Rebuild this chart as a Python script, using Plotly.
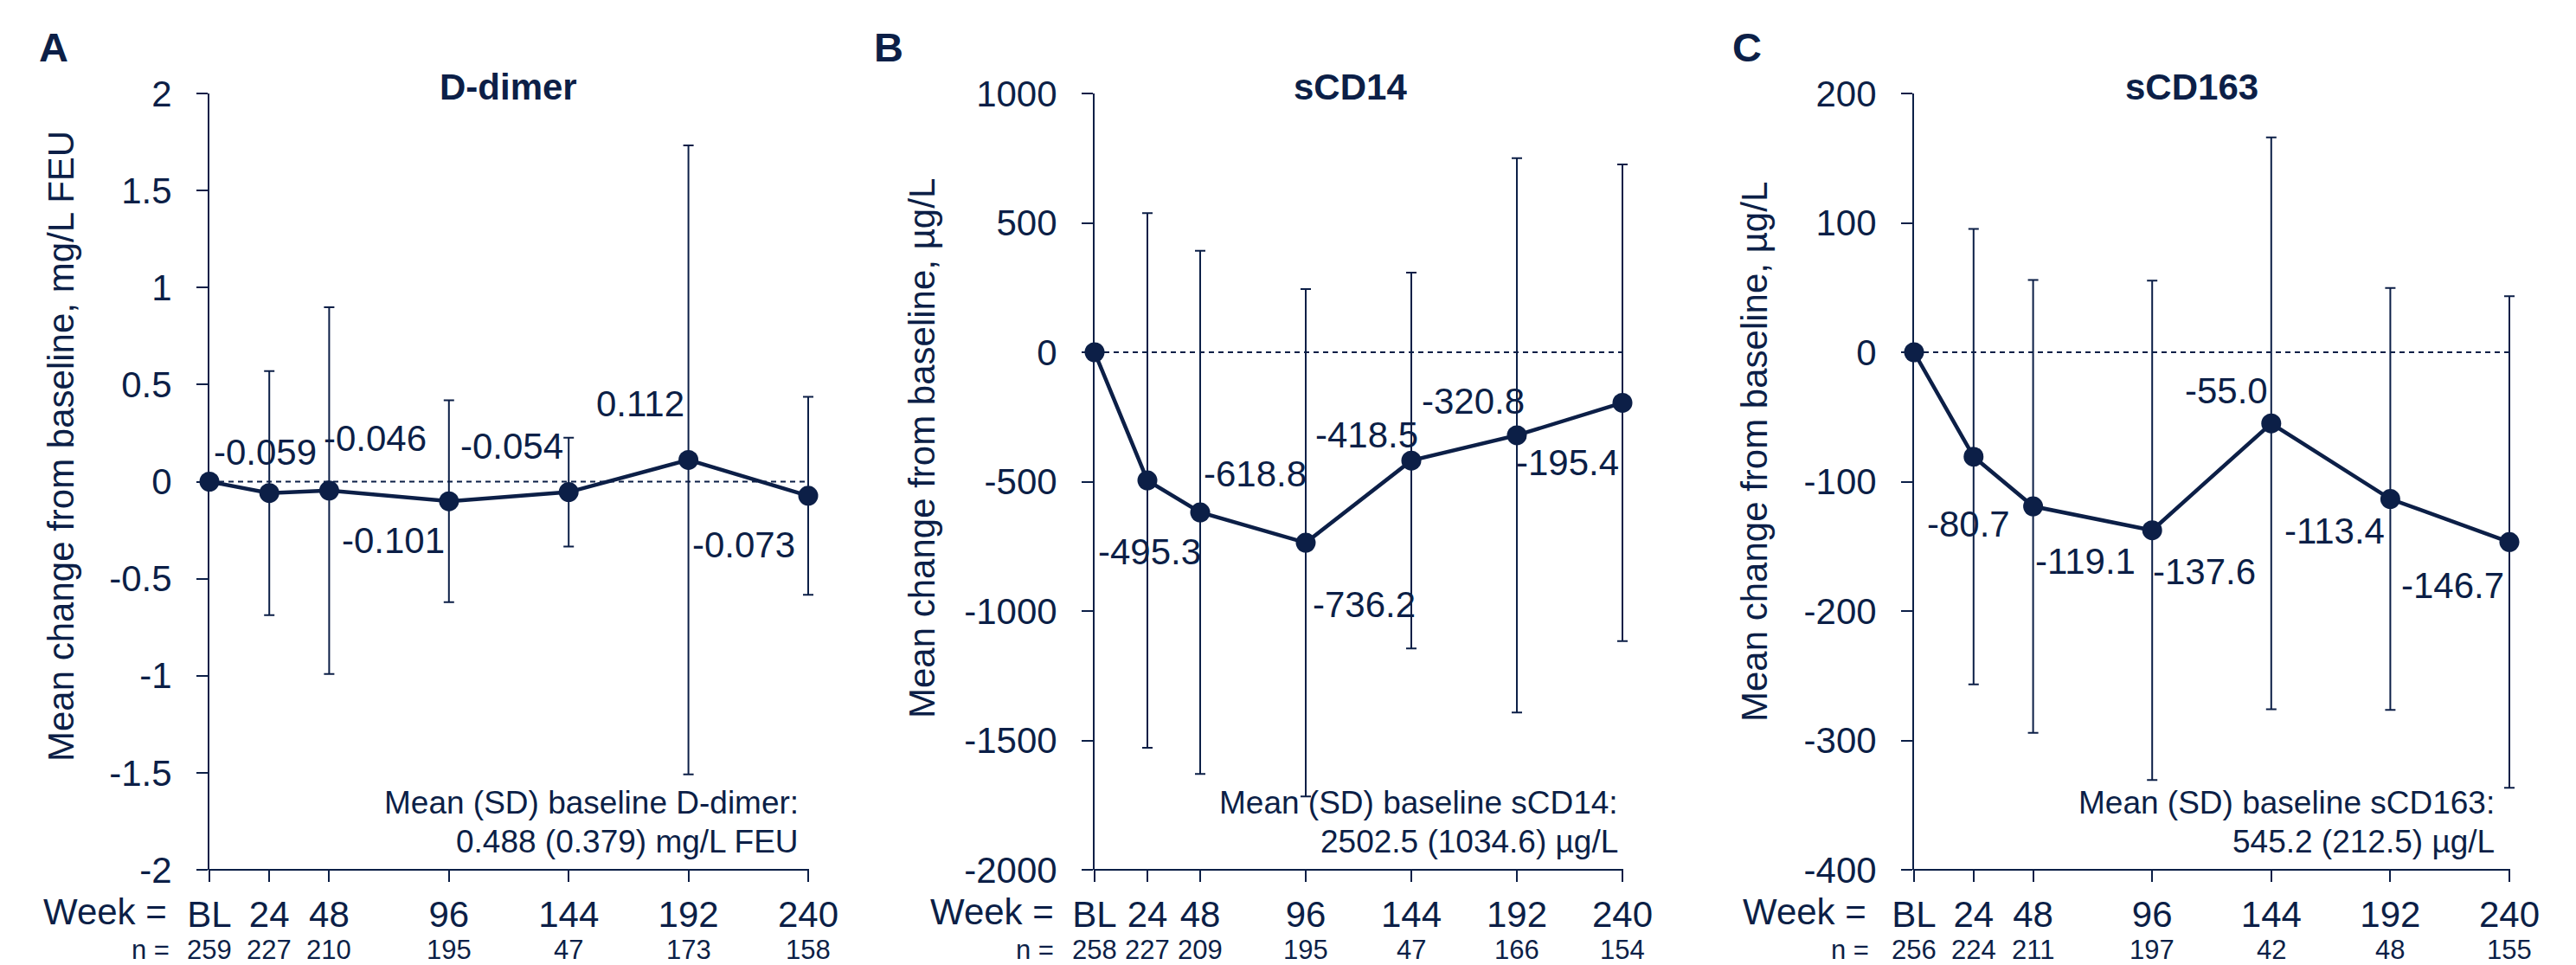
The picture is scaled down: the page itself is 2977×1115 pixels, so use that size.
import plotly.graph_objects as go

# ---------------- data ----------------
weeks = [0, 24, 48, 96, 144, 192, 240]
week_labels = ["BL", "24", "48", "96", "144", "192", "240"]

ddimer_mean = [0, -0.059, -0.046, -0.101, -0.054, 0.112, -0.073]
ddimer_sd = [0, 0.629, 0.945, 0.52, 0.28, 1.62, 0.51]
ddimer_n = [259, 227, 210, 195, 47, 173, 158]

scd14_mean = [0, -495.3, -618.8, -736.2, -418.5, -320.8, -195.4]
scd14_sd = [0, 1033, 1011, 980, 726, 1071, 921]
scd14_n = [258, 227, 209, 195, 47, 166, 154]

scd163_mean = [0, -80.7, -119.1, -137.6, -55.0, -113.4, -146.7]
scd163_sd = [0, 176, 175, 193, 221, 163, 190]
scd163_n = [256, 224, 211, 197, 42, 48, 155]

ddimer_yticks = [-2, -1.5, -1, -0.5, 0, 0.5, 1, 1.5, 2]
scd14_yticks = [-2000, -1500, -1000, -500, 0, 500, 1000]
scd163_yticks = [-400, -300, -200, -100, 0, 100, 200]

# ---------------- style ----------------
W, H = 2977, 1115
C = "#0c1f47"
FONT = "Arial, 'Liberation Sans', sans-serif"
Y_TOP, Y_BOT = 108, 1005
XPAD = 4  # extra range (weeks) right of the last tick so end error bars are not clipped

panels = [
    dict(letter="A", title="D-dimer", mean=ddimer_mean, sd=ddimer_sd, n=ddimer_n,
         yticks=ddimer_yticks, fmt="{:.3f}",
         ytitle="Mean change from baseline, mg/L FEU",
         note=["Mean (SD) baseline D-dimer:", "0.488 (0.379) mg/L FEU"],
         xpx=(242, 934), letter_x=43, title_x=587, ytitle_x=70, ytitle_y=516,
         week_right=195, n_right=198, note_right=925,
         offs=[(-5, -47), (53, -60), (-64, 45), (-66, -53), (-56, -65), (-75, 57)]),
    dict(letter="B", title="sCD14", mean=scd14_mean, sd=scd14_sd, n=scd14_n,
         yticks=scd14_yticks, fmt="{:.1f}",
         ytitle="Mean change from baseline, µg/L",
         note=["Mean (SD) baseline sCD14:", "2502.5 (1034.6) µg/L"],
         xpx=(1265, 1875), letter_x=1008, title_x=1560, ytitle_x=1065, ytitle_y=518,
         week_right=1220, n_right=1220, note_right=1872,
         offs=[(2, 82), (63, -45), (67, 71), (-52, -30), (-51, -39), (-64, 69)]),
    dict(letter="C", title="sCD163", mean=scd163_mean, sd=scd163_sd, n=scd163_n,
         yticks=scd163_yticks, fmt="{:.1f}",
         ytitle="Mean change from baseline, µg/L",
         note=["Mean (SD) baseline sCD163:", "545.2 (212.5) µg/L"],
         xpx=(2212, 2900), letter_x=2000, title_x=2533, ytitle_x=2027, ytitle_y=522,
         week_right=2159, n_right=2162, note_right=2885,
         offs=[(-6, 78), (60, 63), (60, 48), (-52, -38), (-64, 37), (-66, 50)]),
]

fig = go.Figure()
annotations = []
shapes = []
layout_axes = {}

def py(px):
    return 1 - px / H

for i, p in enumerate(panels):
    sfx = "" if i == 0 else str(i + 1)
    xa, ya = "x" + sfx, "y" + sfx
    fig.add_trace(go.Scatter(
        x=weeks, y=p["mean"], mode="lines+markers",
        line=dict(color=C, width=4.5),
        marker=dict(size=23, color=C),
        error_y=dict(type="data", array=p["sd"], visible=True, color=C,
                     thickness=2, width=6),
        xaxis=xa, yaxis=ya, showlegend=False, cliponaxis=False,
    ))
    yt = p["yticks"]
    x0px, x1px = p["xpx"]
    span = weeks[-1] - weeks[0]
    x1ext = x0px + (x1px - x0px) * (span + XPAD) / span
    layout_axes["xaxis" + sfx] = dict(
        domain=[x0px / W, x1ext / W], range=[weeks[0], weeks[-1] + XPAD],
        tickmode="array", tickvals=weeks, ticktext=week_labels,
        ticks="outside", ticklen=13, tickwidth=2, tickcolor=C,
        showline=False, showgrid=False, zeroline=False,
        tickfont=dict(size=42, color=C, family=FONT), anchor=ya,
        ticklabelstandoff=2, automargin=False,
    )
    layout_axes["yaxis" + sfx] = dict(
        domain=[py(Y_BOT), py(Y_TOP)], range=[yt[0], yt[-1]],
        tickmode="array", tickvals=yt, ticktext=["{:g}".format(v) for v in yt],
        ticks="outside", ticklen=13, tickwidth=2, tickcolor=C,
        showline=True, linecolor=C, linewidth=2, showgrid=False, zeroline=False,
        tickfont=dict(size=42, color=C, family=FONT), anchor=xa,
        ticklabelstandoff=20, automargin=False,
    )
    # x axis line ending at the last tick
    shapes.append(dict(type="line", xref="paper", yref="paper",
                       x0=(x0px - 1) / W, x1=(x1px + 1) / W, y0=py(Y_BOT), y1=py(Y_BOT),
                       line=dict(color=C, width=2)))
    shapes.append(dict(type="line", xref=xa, yref=ya, x0=weeks[0], x1=weeks[-1],
                       y0=0, y1=0, line=dict(color=C, width=2, dash="6px,5px"),
                       layer="below"))
    # data labels
    for j in range(1, len(weeks)):
        dx, dy = p["offs"][j - 1]
        annotations.append(dict(
            x=weeks[j], y=p["mean"][j], xref=xa, yref=ya,
            text=p["fmt"].format(p["mean"][j]), showarrow=False,
            xshift=dx, yshift=-dy, xanchor="center", yanchor="middle",
            font=dict(size=42, color=C, family=FONT)))
    # panel title
    annotations.append(dict(x=p["title_x"] / W, y=py(100), xref="paper", yref="paper",
                            text="<b>%s</b>" % p["title"], showarrow=False,
                            xanchor="center", yanchor="middle",
                            font=dict(size=42, color=C, family=FONT)))
    # panel letter
    annotations.append(dict(x=p["letter_x"] / W, y=py(54), xref="paper", yref="paper",
                            text="<b>%s</b>" % p["letter"], showarrow=False,
                            xanchor="left", yanchor="middle",
                            font=dict(size=47, color=C, family=FONT)))
    # y title
    annotations.append(dict(x=p["ytitle_x"] / W, y=py(p["ytitle_y"]), xref="paper",
                            yref="paper", text=p["ytitle"], showarrow=False,
                            textangle=-90, xanchor="center", yanchor="middle",
                            font=dict(size=42, color=C, family=FONT)))
    # Week = / n =
    annotations.append(dict(x=p["week_right"] / W, y=py(1053), xref="paper", yref="paper",
                            text="Week =", showarrow=False, xanchor="right",
                            yanchor="middle", font=dict(size=42, color=C, family=FONT)))
    annotations.append(dict(x=p["n_right"] / W, y=py(1097), xref="paper", yref="paper",
                            text="n =", showarrow=False, xanchor="right",
                            yanchor="middle", font=dict(size=31, color=C, family=FONT)))
    for j in range(len(weeks)):
        annotations.append(dict(x=weeks[j], y=py(1097), xref=xa, yref="paper",
                                text=str(p["n"][j]), showarrow=False,
                                xanchor="center", yanchor="middle",
                                font=dict(size=31, color=C, family=FONT)))
    # note
    for k, line in enumerate(p["note"]):
        annotations.append(dict(x=p["note_right"] / W, y=py(927 + 45 * k), xref="paper",
                                yref="paper", text=line, showarrow=False,
                                xanchor="right", yanchor="middle",
                                font=dict(size=37, color=C, family=FONT)))

fig.update_layout(
    template="none",
    width=W, height=H, autosize=False,
    margin=dict(l=0, r=0, t=0, b=0),
    paper_bgcolor="white", plot_bgcolor="white",
    font=dict(family=FONT, color=C),
    annotations=annotations, shapes=shapes,
    **layout_axes,
)

fig.write_html(
    "out.html",
    config={"displayModeBar": False},
    post_script="document.body.style.margin='0';document.body.style.overflow='hidden';",
)
